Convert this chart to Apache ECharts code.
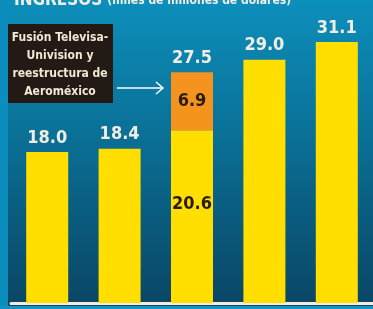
<!DOCTYPE html>
<html>
<head>
<meta charset="utf-8">
<script src="https://cdn.jsdelivr.net/npm/echarts@6/dist/echarts.min.js"></script>
<style>
  html, body { margin: 0; padding: 0; }
  #chart { width: 373px; height: 309px; }
</style>
</head>
<body>
<div id="chart"></div>
<script>
// datos
var categories = ["A", "B", "C", "D", "E"];
var baseValues = [18.0, 18.4, 20.6, 29.0, 31.1];
var extraValues = ["-", "-", 6.9, "-", "-"];
var totals = [18.0, 18.4, 27.5, 29.0, 31.1];
var noteLines = ["Fusión Televisa-", "Univision y", "reestructura de", "Aeroméxico"];

var FONT = "'DejaVu Sans Condensed', 'Liberation Sans Narrow', sans-serif";

var chart = echarts.init(document.getElementById("chart"));

chart.setOption({
  animation: false,
  backgroundColor: new echarts.graphic.LinearGradient(0, 0, 0, 1, [
    { offset: 0, color: "#0c8fbb" },
    { offset: 0.45, color: "#0a6f95" },
    { offset: 1, color: "#0a4564" }
  ]),
  title: {
    left: 9,
    top: -13,
    text: "{b|INGRESOS} {n|(miles de millones de dólares)}",
    textStyle: {
      rich: {
        b: { fontFamily: FONT, fontWeight: "bold", fontSize: 17, color: "#f2ede2" },
        n: { fontFamily: FONT, fontSize: 12, color: "#f2ede2" }
      }
    }
  },
  grid: { left: 11, width: 363, top: 1, bottom: 6 },
  xAxis: {
    type: "category",
    data: categories,
    axisLine: { show: true, lineStyle: { color: "#f3ecdf", width: 3 } },
    axisTick: { show: false },
    axisLabel: { show: false }
  },
  yAxis: {
    type: "value",
    min: 0,
    max: 36,
    show: false,
    splitLine: { show: false }
  },
  series: [
    {
      // totales (solo etiqueta)
      type: "bar",
      data: totals,
      barWidth: 42,
      barGap: "-100%",
      z: 1,
      itemStyle: { color: "transparent" },
      label: {
        show: true,
        position: "top",
        distance: 5,
        fontFamily: FONT,
        fontWeight: "bold",
        fontSize: 18,
        color: "#f2ede2",
        formatter: function (p) { return p.value.toFixed(1); }
      }
    },
    {
      type: "bar",
      stack: "t",
      data: baseValues,
      barWidth: 42,
      z: 2,
      itemStyle: { color: "#ffde00" },
      label: {
        show: true,
        position: "inside",
        offset: [0, -12],
        fontFamily: FONT,
        fontWeight: "bold",
        fontSize: 18,
        color: "#2a1c12",
        formatter: function (p) { return p.dataIndex === 2 ? p.value.toFixed(1) : ""; }
      }
    },
    {
      type: "bar",
      stack: "t",
      data: extraValues,
      barWidth: 42,
      z: 2,
      itemStyle: { color: "#f5931f" },
      label: {
        show: true,
        position: "inside",
        fontFamily: FONT,
        fontWeight: "bold",
        fontSize: 18,
        color: "#2a1c12",
        formatter: function (p) { return p.value.toFixed(1); }
      }
    }
  ],
  graphic: [
    { type: "rect", left: 0, top: 0, z: 10, shape: { width: 8, height: 309 }, style: { fill: "#0b8dbd" } },
    { type: "rect", left: 0, top: 306, z: 10, shape: { width: 373, height: 3 }, style: { fill: "#1592c2" } },
    { type: "rect", left: 8, top: 24, z: 10, shape: { width: 105, height: 79 }, style: { fill: "#241a15" } },
    {
      type: "text", x: 60, y: 29, z: 11,
      style: {
        text: noteLines.join("\n"),
        align: "center",
        verticalAlign: "top",
        fontFamily: FONT,
        fontWeight: "bold",
        fontSize: 12,
        lineHeight: 18,
        fill: "#f1e7d2"
      }
    },
    { type: "line", z: 11, shape: { x1: 117, y1: 88, x2: 163, y2: 88 }, style: { stroke: "#ffffff", lineWidth: 1.5 } },
    { type: "polyline", z: 11, shape: { points: [[156, 82], [163, 88], [156, 94]] }, style: { stroke: "#ffffff", lineWidth: 1.5, fill: null } }
  ]
});
</script>
</body>
</html>
